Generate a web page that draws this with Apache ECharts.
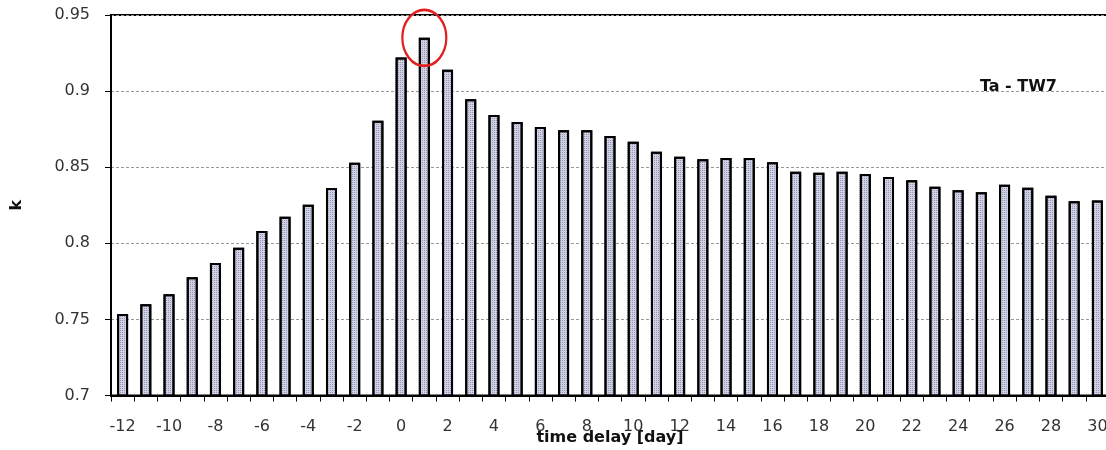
<!DOCTYPE html>
<html>
<head>
<meta charset="utf-8">
<script src="https://cdn.jsdelivr.net/npm/echarts@6/dist/echarts.min.js"></script>
<style>html,body{margin:0;padding:0;background:#fff}#c{width:1106px;height:450px}</style>
</head>
<body>
<div id="c"></div>
<script>
var categories = ['-12','-11','-10','-9','-8','-7','-6','-5','-4','-3','-2','-1','0','1','2','3','4','5','6','7','8','9','10','11','12','13','14','15','16','17','18','19','20','21','22','23','24','25','26','27','28','29','30'];
var kValues = [0.7535,0.760,0.7665,0.7777,0.787,0.797,0.808,0.8175,0.8254,0.8363,0.853,0.8806,0.922,0.935,0.914,0.8946,0.8843,0.8797,0.8764,0.8742,0.8742,0.8705,0.8668,0.8602,0.8569,0.8552,0.856,0.856,0.8532,0.847,0.8464,0.847,0.8455,0.8436,0.8414,0.8372,0.8348,0.8335,0.8385,0.8365,0.8313,0.8276,0.8282];
var yTicks = [0.7, 0.75, 0.8, 0.85, 0.9, 0.95];
var highlightIndex = 13;

var FONT = 'DejaVu Sans, Verdana, sans-serif';
var chart = echarts.init(document.getElementById('c'), null, {renderer: 'canvas'});
chart.setOption({
  animation: false,
  backgroundColor: '#fff',
  title: {
    text: 'Ta - TW7',
    right: 44, top: 74,
    textStyle: {fontFamily: FONT, fontWeight: 'bold', fontSize: 16, color: '#111'}
  },
  grid: {left: 111, right: -3, top: 15, bottom: 54.5, outerBoundsMode: 'none', containLabel: false,
    show: true, borderColor: '#000', borderWidth: 2, backgroundColor: 'transparent'},
  xAxis: {
    type: 'category',
    data: categories,
    name: 'time delay [day]',
    nameLocation: 'middle',
    nameGap: 34,
    nameMoveOverlap: false,
    nameTextStyle: {fontFamily: FONT, fontWeight: 'bold', fontSize: 16, color: '#111'},
    axisLine: {lineStyle: {color: '#000', width: 2}},
    axisTick: {show: true, interval: 0, length: 6, lineStyle: {color: '#000', width: 1}},
    axisLabel: {interval: 1, margin: 23, fontFamily: FONT, fontSize: 16, color: '#333'},
    splitLine: {show: false}
  },
  yAxis: {
    type: 'value',
    min: yTicks[0], max: yTicks[yTicks.length - 1], interval: 0.05,
    name: 'k',
    nameLocation: 'middle',
    nameGap: 86,
    nameMoveOverlap: false,
    nameTextStyle: {fontFamily: FONT, fontWeight: 'bold', fontSize: 16, color: '#111'},
    axisLine: {show: true, lineStyle: {color: '#000', width: 2}},
    axisTick: {show: true, length: 6, lineStyle: {color: '#000', width: 1}},
    axisLabel: {margin: 21, fontFamily: FONT, fontSize: 16, color: '#333',
      formatter: function (v) { return String(Math.round(v * 100) / 100); }},
    splitLine: {show: true, lineStyle: {color: '#999', width: 1, type: [3, 2]}}
  },
  series: [{
    type: 'bar',
    data: kValues,
    barWidth: 11,
    itemStyle: {
      color: '#d0d1e2',
      borderColor: '#000',
      borderWidth: 2,
      decal: {symbol: 'rect', symbolSize: 1, dashArrayX: [1, 1], dashArrayY: [1, 1], color: 'rgba(60,60,120,0.4)', rotation: 0}
    },
    markPoint: {
      silent: true,
      symbol: 'circle',
      symbolSize: [44, 56],
      label: {show: false},
      itemStyle: {color: 'rgba(0,0,0,0)', borderColor: '#e02020', borderWidth: 2.5},
      data: [{coord: [highlightIndex, kValues[highlightIndex]]}]
    }
  }]
});
</script>
</body>
</html>
